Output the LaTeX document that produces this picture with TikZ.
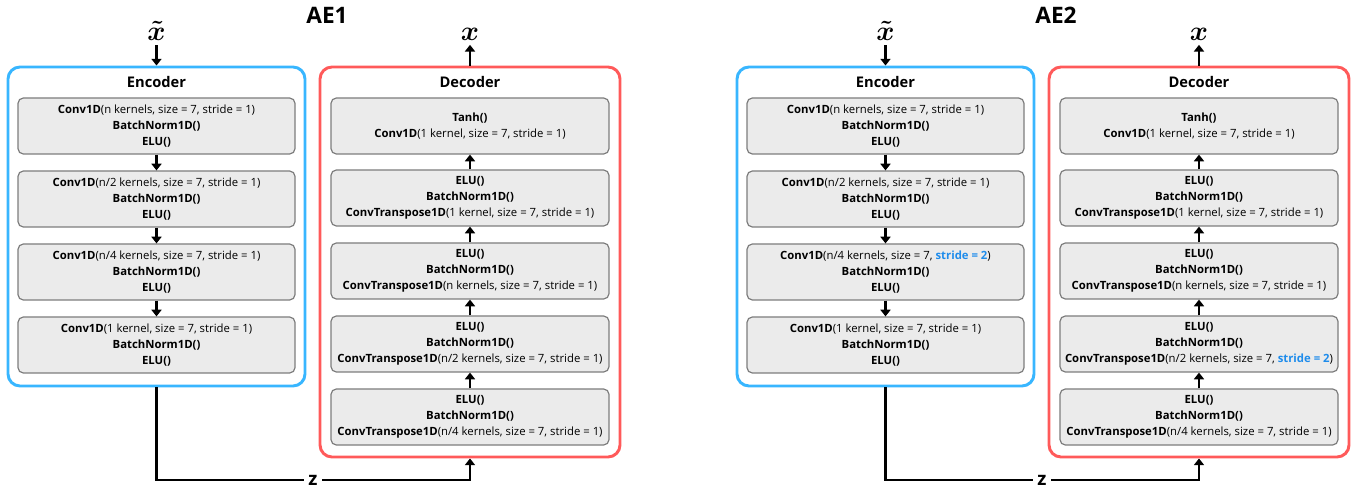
\documentclass[tikz,border=0pt]{standalone}
\usepackage{amsmath,amssymb}
\usepackage{fontspec}
\setmainfont{Open Sans}
\usetikzlibrary{arrows.meta,positioning}
\definecolor{encblue}{RGB}{56,182,255}
\definecolor{decred}{RGB}{255,90,90}
\definecolor{layergray}{RGB}{235,235,235}
\definecolor{layeredge}{RGB}{125,125,125}
\definecolor{strideblue}{RGB}{30,140,235}
\newcommand{\hlstride}[1]{\textbf{\color{strideblue}#1}}
\tikzset{
    encbox/.style={draw=encblue, line width=2.2pt, rounded corners=9pt, minimum width=222.75pt, minimum height=239.25pt},
    decbox/.style={draw=decred, line width=2.2pt, rounded corners=9pt, minimum width=225pt, minimum height=292.5pt},
    layer/.style={draw=layeredge, fill=layergray, line width=0.9pt, rounded corners=4pt, minimum height=42pt, align=center, font=\fontsize{8.5}{12}\selectfont, inner sep=1pt},
    enclayer/.style={layer, minimum width=207.75pt},
    declayer/.style={layer, minimum width=208.5pt},
    boxtitle/.style={font=\fontsize{11}{13}\selectfont\bfseries},
    aetitle/.style={font=\fontsize{17}{20}\selectfont\bfseries},
    signal/.style={font=\fontsize{22}{24}\selectfont},
    flow/.style={-{Triangle[length=5pt,width=7.5pt]}, line width=1.8pt},
    latent/.style={line width=1.9pt},
}
\begin{document}
\begin{tikzpicture}[x=0.75pt, y=-0.75pt]
    \useasboundingbox (0,0) rectangle (1367,491);
    \foreach \ae/\dx/\strA/\strB in {1/0/{stride = 1}/{stride = 1}, 2/729/{\hlstride{stride = 2}}/{\hlstride{stride = 2}}} {
        % Title
        \node[aetitle] (title\ae) at (\dx+327, 15) {AE\ae};
        % Encoder
        \node[encbox] (enc\ae) at (\dx+156.5, 226.5) {};
        \node[boxtitle] (enct\ae) at (\dx+156.5, 82) {Encoder};
        \foreach \i/\y/\txt in {
            1/126/{\textbf{Conv1D}(n kernels, size = 7, stride = 1)},
            2/199/{\textbf{Conv1D}(n/2 kernels, size = 7, stride = 1)},
            3/272/{\textbf{Conv1D}(n/4 kernels, size = 7, \strA)},
            4/345/{\textbf{Conv1D}(1 kernel, size = 7, stride = 1)}} {
            \node[enclayer] (e\ae-\i) at (\dx+156.5, \y) {\txt\\\textbf{BatchNorm1D()}\\\textbf{ELU()}};
        }
        \foreach \i [evaluate=\i as \j using int(\i+1)] in {1,2,3} {
            \draw[flow] (e\ae-\i) -- (e\ae-\j);
        }
        % Decoder
        \node[decbox] (dec\ae) at (\dx+470, 262) {};
        \node[boxtitle] (dect\ae) at (\dx+470, 82) {Decoder};
        \node[declayer] (d\ae-1) at (\dx+470, 126) {\textbf{Tanh()}\\\textbf{Conv1D}(1 kernel, size = 7, stride = 1)};
        \foreach \i/\y/\txt in {
            2/198/{1 kernel, size = 7, stride = 1},
            3/271/{n kernels, size = 7, stride = 1},
            4/344/{n/2 kernels, size = 7, \strB},
            5/417/{n/4 kernels, size = 7, stride = 1}} {
            \node[declayer] (d\ae-\i) at (\dx+470, \y) {\textbf{ELU()}\\\textbf{BatchNorm1D()}\\\textbf{ConvTranspose1D}(\txt)};
        }
        \foreach \i [evaluate=\i as \j using int(\i-1)] in {2,3,4,5} {
            \draw[flow] (d\ae-\i) -- (d\ae-\j);
        }
        % Input and output
        \node[signal] (xin\ae) at (\dx+156.5, 31) {$\boldsymbol{\tilde{x}}$};
        \node[signal] (xout\ae) at (\dx+470, 34) {$\boldsymbol{x}$};
        \draw[flow] (xin\ae) -- (enc\ae);
        \draw[flow] (dec\ae) -- (xout\ae);
        % Latent code
        \node[font=\fontsize{14}{16}\selectfont\bfseries] (z\ae) at (\dx+313, 480) {z};
        \draw[latent] (enc\ae.south) |- (z\ae.west);
        \draw[flow] (z\ae.east) -| (dec\ae.south);
    }
\end{tikzpicture}
\end{document}
